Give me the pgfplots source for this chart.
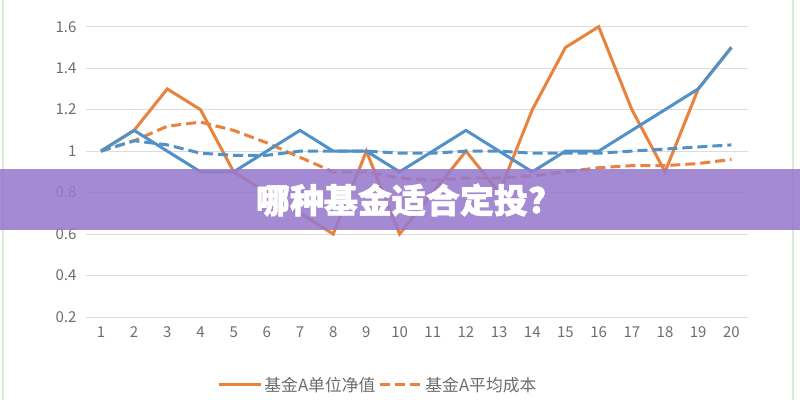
\documentclass[border=0pt]{standalone}
\usepackage{pgfplots}
\pgfplotsset{compat=1.18}
\usepackage{fontspec}
\setmainfont{Noto Sans CJK SC}
\newfontfamily\titlefont{Noto Sans CJK SC}[BoldFeatures={FakeBold=1.6}]
\definecolor{fundorange}{RGB}{232,130,60}
\definecolor{fundblue}{RGB}{82,145,200}
\definecolor{gridgrey}{RGB}{220,220,220}
\definecolor{ticktext}{RGB}{110,110,110}
\definecolor{bannerpurple}{RGB}{152,122,204}
\definecolor{framegreen}{RGB}{215,235,215}

% fund A: unit net value / average cost
\pgfplotstableread{
x navA costA
1 1.00 1.00
2 1.10 1.05
3 1.30 1.12
4 1.20 1.14
5 0.90 1.10
6 0.80 1.04
7 0.70 0.97
8 0.60 0.90
9 1.00 0.90
10 0.60 0.87
11 0.80 0.86
12 1.00 0.87
13 0.80 0.87
14 1.20 0.88
15 1.50 0.90
16 1.60 0.92
17 1.20 0.93
18 0.90 0.93
19 1.30 0.94
20 1.50 0.96
}\fundA

% fund B: unit net value / average cost
\pgfplotstableread{
x navB costB
1 1.00 1.00
2 1.10 1.05
3 1.00 1.03
4 0.90 0.99
5 0.90 0.98
6 1.00 0.98
7 1.10 1.00
8 1.00 1.00
9 1.00 1.00
10 0.90 0.99
11 1.00 0.99
12 1.10 1.00
13 1.00 1.00
14 0.90 0.99
15 1.00 0.99
16 1.00 0.99
17 1.10 1.00
18 1.20 1.01
19 1.30 1.02
20 1.50 1.03
}\fundB

\begin{document}
\begin{tikzpicture}
\useasboundingbox (0,0) rectangle (800bp,400bp);
\fill[white] (0,0) rectangle (800bp,400bp);
\draw[framegreen, line width=2bp] (3bp,0) -- (3bp,400bp);
\draw[framegreen, line width=2bp] (793bp,0) -- (793bp,400bp);
\begin{axis}[
    at={(86bp,83bp)}, anchor=south west,
    scale only axis,
    width=662bp, height=290.3bp,
    xmin=0.55, xmax=20.5,
    ymin=0.2, ymax=1.6,
    clip=false,
    axis line style={draw=none},
    tick style={draw=none},
    xtick={1,...,20},
    ytick={0.2,0.4,...,1.61},
    ymajorgrids=true,
    major grid style={gridgrey, line width=1bp},
    /pgf/number format/assume math mode=true,
    ticklabel style={font=\fontsize{15bp}{18bp}\selectfont, text=ticktext},
    xticklabel style={yshift=-6bp},
    yticklabel style={xshift=-6bp},
    legend columns=2,
    legend style={at={(0.441,-0.234)}, anchor=center, draw=none, fill=none,
        font=\fontsize{16.8bp}{20bp}\selectfont, text=ticktext,
        /tikz/every even column/.append style={column sep=1bp}},
    legend image code/.code={\draw[#1] (0bp,0bp) -- (42bp,0bp);},
]
\addplot[fundorange, line width=3bp] table[x=x, y=navA] {\fundA};
\addlegendentry{基金A单位净值}
\addplot[fundorange, line width=3bp, dash pattern=on 10bp off 5bp] table[x=x, y=costA] {\fundA};
\addlegendentry{基金A平均成本}
\addplot[fundblue, line width=3bp, forget plot] table[x=x, y=navB] {\fundB};
\addplot[fundblue, line width=3bp, dash pattern=on 10bp off 5bp, forget plot] table[x=x, y=costB] {\fundB};
\end{axis}
\fill[bannerpurple, fill opacity=0.88] (0,170bp) rectangle (800bp,231bp);
\node[text=white, font=\fontsize{34bp}{38bp}\selectfont\titlefont\bfseries] at (401bp,200bp) {哪种基金适合定投?};
\end{tikzpicture}
\end{document}
